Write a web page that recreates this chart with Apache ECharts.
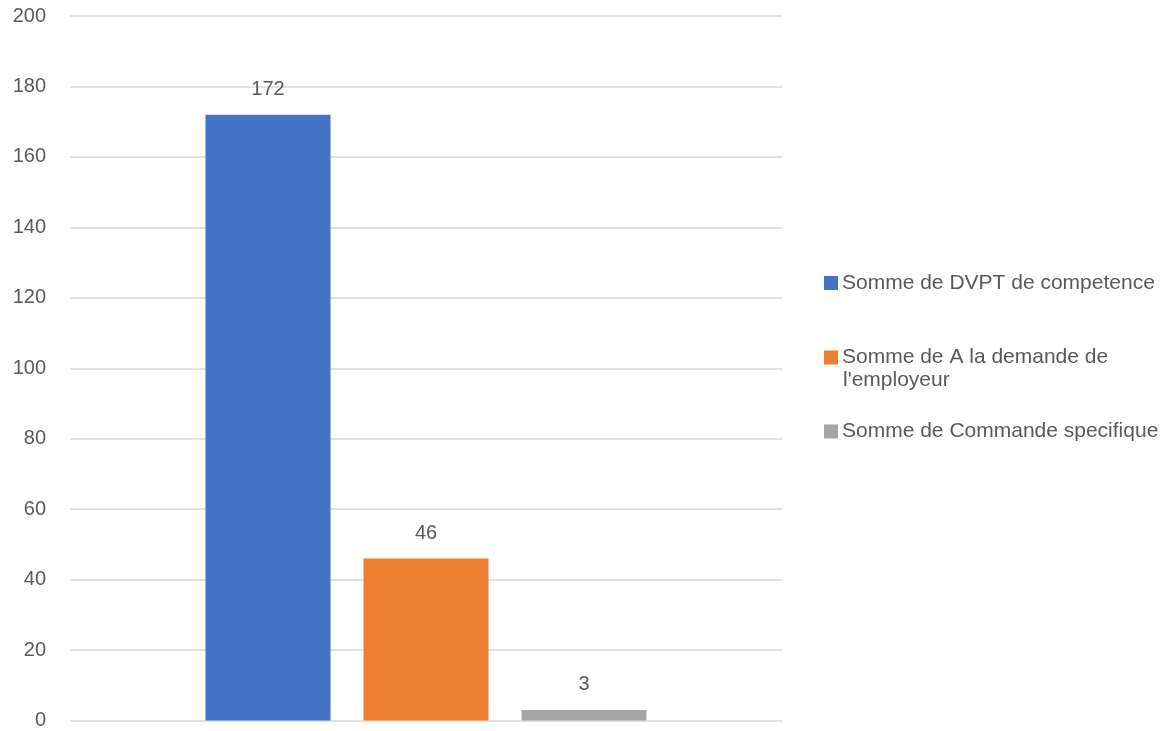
<!DOCTYPE html>
<html>
<head>
<meta charset="utf-8">
<script src="https://cdn.jsdelivr.net/npm/echarts@6/dist/echarts.min.js"></script>
<style>html,body{margin:0;padding:0;background:#fff;}#c{width:1173px;height:731px;}</style>
</head>
<body>
<div id="c"></div>
<script>
var categories = [''];
var seriesNames = ['Somme de DVPT de competence', 'Somme de A la demande de l\'employeur', 'Somme de Commande specifique'];
var dvptValues = [172];
var demandeValues = [46];
var commandeValues = [3];
var yTicks = { min: 0, max: 200, interval: 20 };

var colors = ['#4472C4', '#ED7D31', '#A5A5A5'];
var font = 'Liberation Sans, Arial, sans-serif';
var txt = '#595959';

function mkSeries(name, data, color) {
  return {
    name: name, type: 'bar', data: data,
    barWidth: 125, barGap: '26.4%',
    itemStyle: { color: color },
    label: { show: true, position: 'top', distance: 15, color: txt, fontSize: 20, fontFamily: font }
  };
}

function mkLegend(name, top, formatter) {
  return {
    data: [name], left: 824, top: top, padding: 0, orient: 'vertical',
    itemWidth: 14, itemHeight: 14, icon: 'rect', selectedMode: false,
    formatter: formatter || '{name}',
    textStyle: { color: txt, fontSize: 21, fontFamily: font, lineHeight: 14, padding: [0, 0, 0, -1] }
  };
}

var chart = echarts.init(document.getElementById('c'));
chart.setOption({
  animation: false,
  backgroundColor: '#fff',
  grid: { left: 70, right: 391, top: 16, bottom: 10.5, containLabel: false },
  xAxis: {
    type: 'category', data: categories,
    axisLine: { show: false }, axisTick: { show: false }, axisLabel: { show: false }
  },
  yAxis: {
    type: 'value', min: yTicks.min, max: yTicks.max, interval: yTicks.interval,
    axisLine: { show: false }, axisTick: { show: false },
    axisLabel: { color: txt, fontSize: 20, fontFamily: font, margin: 24 },
    splitLine: { lineStyle: { color: '#d9d9d9', width: 1.5 } }
  },
  legend: [
    mkLegend(seriesNames[0], 272.5),
    mkLegend(seriesNames[1], 347, function () { return 'Somme de A la demande de'; }),
    mkLegend(seriesNames[2], 421)
  ],
  graphic: [{
    type: 'text', left: 843, top: 370,
    style: { text: 'l\'employeur', fill: txt, font: '21px Liberation Sans, Arial, sans-serif' }
  }],
  series: [
    mkSeries(seriesNames[0], dvptValues, colors[0]),
    mkSeries(seriesNames[1], demandeValues, colors[1]),
    mkSeries(seriesNames[2], commandeValues, colors[2])
  ]
});
</script>
</body>
</html>
